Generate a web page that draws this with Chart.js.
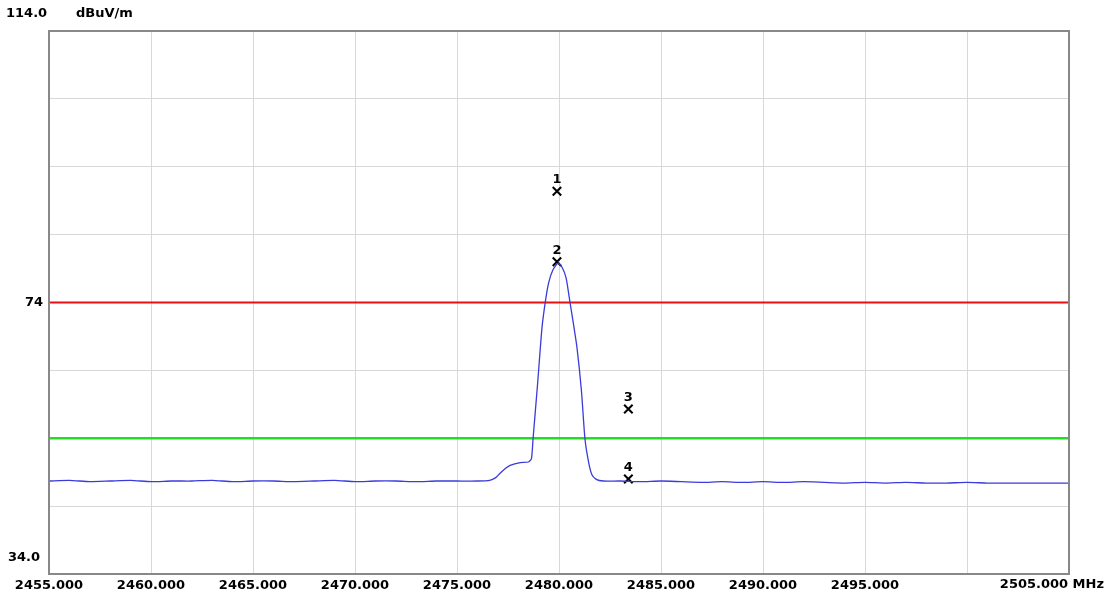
<!DOCTYPE html>
<html><head><meta charset="utf-8">
<script src="https://cdn.jsdelivr.net/npm/chart.js@4/dist/chart.umd.min.js"></script>
<style>html,body{margin:0;background:#fff}#wrap{width:1109px;height:600px}</style>
</head><body><div id="wrap"><canvas id="c"></canvas></div>
<script>
// trace (MHz, dBuV/m)
const traceFreq = [2455,2456,2457,2458,2459,2460,2461,2462,2463,2464,2465,2466,2467,2468,2469,2470,2471,2472,2473,2474,2475,2476,2476.6,2476.9,2477.1,2477.4,2477.6,2478.1,2478.5,2478.65,2478.73,2478.95,2479.17,2479.35,2479.5,2479.7,2479.95,2480.15,2480.35,2480.54,2480.7,2480.88,2481.1,2481.27,2481.45,2481.62,2481.85,2482.16,2483,2484,2485,2486,2487,2488,2489,2490,2491,2492,2493,2494,2495,2496,2497,2498,2499,2500,2501,2502,2503,2504,2505];
const traceLevel = [47.7,47.8,47.6,47.7,47.8,47.6,47.7,47.7,47.8,47.6,47.7,47.7,47.6,47.7,47.8,47.6,47.7,47.7,47.6,47.7,47.7,47.7,47.8,48.2,48.8,49.6,50.0,50.4,50.5,51.0,54.0,62.0,70.4,74.5,77.0,78.8,79.8,79.2,77.6,74.0,71.0,67.4,61.0,54.0,50.5,48.6,47.9,47.7,47.7,47.6,47.7,47.6,47.5,47.6,47.5,47.6,47.5,47.6,47.5,47.4,47.5,47.4,47.5,47.4,47.4,47.5,47.4,47.4,47.4,47.4,47.4];
const markerFreq = [2479.9, 2479.9, 2483.4, 2483.4];
const markerLevel = [90.4, 80.0, 58.3, 48.0];
const markerName = ['1','2','3','4'];
const limitPeak = 74;
const limitAvg = 54;
const yMin = 34, yMax = 114, xMin = 2455, xMax = 2505;
const xUnlabelled = [2500, 2505]; // 2505 gets its own label with the unit

const FONT = 'bold 13px "DejaVu Sans", sans-serif';

const extras = {
  id: 'extras',
  afterDatasetsDraw(chart){
    const {ctx, chartArea:a, scales:{x,y}} = chart;
    ctx.save();
    ctx.strokeStyle = '#888'; ctx.lineWidth = 2;
    ctx.strokeRect(a.left, a.top, a.right - a.left, a.bottom - a.top);
    ctx.font = FONT; ctx.fillStyle = '#000'; ctx.textAlign = 'center'; ctx.textBaseline = 'bottom';
    markerFreq.forEach((f,i) => ctx.fillText(markerName[i], x.getPixelForValue(f), y.getPixelForValue(markerLevel[i]) - 5));
    ctx.textAlign = 'left'; ctx.textBaseline = 'middle';
    ctx.fillText(yMax.toFixed(1), 6, 14);
    ctx.fillText('dBuV/m', 76, 14);
    ctx.fillText(yMin.toFixed(1), 8, y.getPixelForValue(yMin) - 16);
    ctx.textAlign = 'right';
    ctx.fillText(xMax.toFixed(3) + ' MHz', 1104, a.bottom + 11);
    ctx.restore();
  }
};

new Chart(document.getElementById('c'), {
  type: 'line',
  data: {
    datasets: [
      { data: traceFreq.map((f,i)=>({x:f,y:traceLevel[i]})), borderColor:'#3b3bdc', borderWidth:1.3, pointRadius:0, tension:0.2 },
      { data: [{x:xMin,y:limitPeak},{x:xMax,y:limitPeak}], borderColor:'#e81010', borderWidth:2, pointRadius:0 },
      { data: [{x:xMin,y:limitAvg},{x:xMax,y:limitAvg}], borderColor:'#22dd22', borderWidth:2.5, pointRadius:0 },
      { type:'scatter', data: markerFreq.map((f,i)=>({x:f,y:markerLevel[i]})), pointStyle:'crossRot', pointRadius:6, borderColor:'#000', borderWidth:2 }
    ]
  },
  options: {
    responsive:true, maintainAspectRatio:false, animation:false,
    layout:{ padding:{ top:31, right:40, left:0, bottom:0 } },
    plugins:{ legend:{display:false}, tooltip:{enabled:false} },
    scales:{
      x:{ type:'linear', min:xMin, max:xMax,
          border:{ color:'#888', width:2 },
          grid:{ color:'#d8d8d8', drawTicks:false },
          afterFit(s){ s.height = 26; s.paddingRight = 0; },
          ticks:{ stepSize:5, padding:4, maxRotation:0, autoSkip:false, color:'#000', font:{ family:'"DejaVu Sans", sans-serif', size:13, weight:'bold' },
                  callback:v => xUnlabelled.includes(v) ? '' : v.toFixed(3) } },
      y:{ min:yMin, max:yMax,
          border:{ color:'#888', width:2 },
          grid:{ color:'#d8d8d8', drawTicks:false },
          afterFit(s){ s.width = 49; },
          ticks:{ stepSize:10, padding:6, color:'#000', font:{ family:'"DejaVu Sans", sans-serif', size:13, weight:'bold' },
                  callback:v => v === limitPeak ? String(v) : '' } }
    }
  },
  plugins:[extras]
});
</script></body></html>
